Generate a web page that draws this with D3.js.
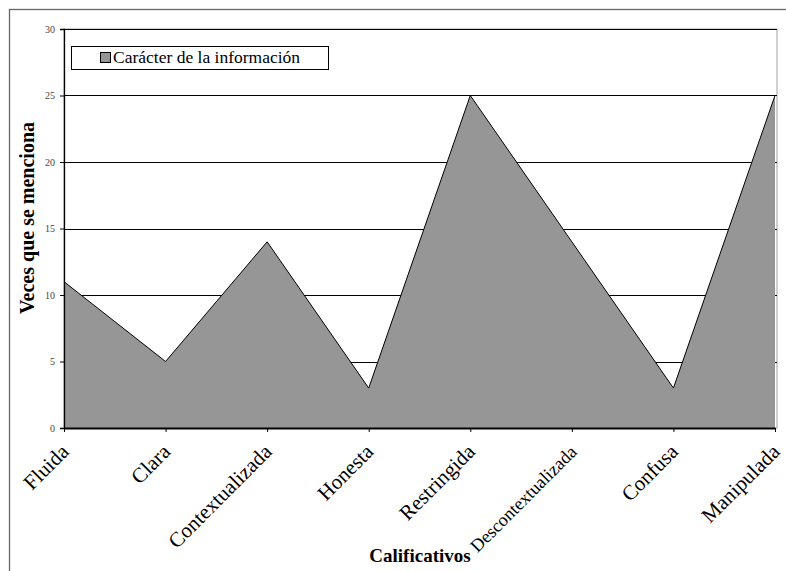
<!DOCTYPE html>
<html>
<head>
<meta charset="utf-8">
<script src="https://cdn.jsdelivr.net/npm/d3@7"></script>
<style>
  html, body { margin: 0; padding: 0; background: #fff; }
  svg { display: block; }
  text { font-family: "Liberation Serif", "DejaVu Serif", serif; }
</style>
</head>
<body>
<svg id="chart" width="786" height="571"></svg>
<script>
// Calificativos y número de menciones
const categories = ["Fluida", "Clara", "Contextualizada", "Honesta", "Restringida", "Descontextualizada", "Confusa", "Manipulada"];
const values = [11, 5, 14, 3, 25, 14, 3, 25];
const yTicks = [0, 5, 10, 15, 20, 25, 30];
const seriesName = "Carácter de la información";
const xTitle = "Calificativos";
const yTitle = "Veces que se menciona";

const svg = d3.select("#chart");
const W = 786, H = 571;
const plot = { left: 64, right: 777, top: 29, bottom: 428 };

// marco exterior del gráfico
svg.append("rect")
  .attr("x", 9.5).attr("y", 9.5)
  .attr("width", W).attr("height", H)
  .attr("fill", "#fff").attr("stroke", "#666").attr("stroke-width", 1.3);

const x = d3.scalePoint().domain(categories).range([plot.left, 775]);
const y = d3.scaleLinear().domain([0, 30]).range([plot.bottom, plot.top]);

// borde del área de trazado
svg.append("rect")
  .attr("x", plot.left).attr("y", plot.top)
  .attr("width", plot.right - plot.left).attr("height", plot.bottom - plot.top)
  .attr("fill", "none").attr("stroke", "#a0a0a0").attr("stroke-width", 1);

// líneas de división
svg.append("g").selectAll("line")
  .data(yTicks.filter(d => d > 0))
  .join("line")
  .attr("x1", plot.left).attr("x2", plot.right)
  .attr("y1", d => Math.round(y(d)) + 0.5).attr("y2", d => Math.round(y(d)) + 0.5)
  .attr("stroke", "#000").attr("stroke-width", 1);

// área
const area = d3.area()
  .x((d, i) => x(categories[i]))
  .y0(y(0))
  .y1(d => y(d));
const line = d3.line()
  .x((d, i) => x(categories[i]))
  .y(d => y(d));

svg.append("path").datum(values)
  .attr("d", area)
  .attr("fill", "#969696");
svg.append("path").datum(values)
  .attr("d", line)
  .attr("fill", "none").attr("stroke", "#000").attr("stroke-width", 1);

// eje Y
const yAxis = d3.axisLeft(y).tickValues(yTicks).tickSize(4).tickPadding(5);
const gy = svg.append("g").attr("transform", `translate(${plot.left},0)`).call(yAxis);
gy.select(".domain").attr("stroke", "#000").attr("stroke-width", 1.3);
gy.selectAll(".tick line").attr("stroke", "#000");
gy.selectAll(".tick text")
  .attr("font-family", "Liberation Serif, serif")
  .attr("font-size", 10).attr("fill", "#444");

// eje X
const xAxis = d3.axisBottom(x).tickSize(4).tickSizeOuter(0).tickFormat("");
const gx = svg.append("g").attr("transform", `translate(0,${plot.bottom})`).call(xAxis);
gx.select(".domain").attr("stroke", "#000").attr("stroke-width", 2);
gx.selectAll(".tick line").attr("stroke", "#000");

// etiquetas de categoría inclinadas; las más largas se reducen para caber
const maxLabelLen = 142;
svg.append("g").selectAll("text")
  .data(categories)
  .join("text")
  .attr("transform", d => `translate(${x(d) + 6},${plot.bottom + 25}) rotate(-45)`)
  .attr("text-anchor", "end")
  .attr("font-size", 21)
  .attr("fill", "#000")
  .text(d => d)
  .each(function () {
    const len = this.getComputedTextLength();
    if (len > maxLabelLen) d3.select(this).attr("font-size", 21 * maxLabelLen / len);
  });

// títulos de ejes
svg.append("text")
  .attr("transform", `translate(34,218) rotate(-90)`)
  .attr("text-anchor", "middle")
  .attr("font-size", 20).attr("font-weight", "bold")
  .text(yTitle);

svg.append("text")
  .attr("x", 420).attr("y", 562)
  .attr("text-anchor", "middle")
  .attr("font-size", 19).attr("font-weight", "bold")
  .text(xTitle);

// leyenda
const lg = svg.append("g");
lg.append("rect")
  .attr("x", 71.5).attr("y", 46.5).attr("width", 257).attr("height", 23)
  .attr("fill", "#fff").attr("stroke", "#000").attr("stroke-width", 1);
lg.append("rect")
  .attr("x", 100.5).attr("y", 52.5).attr("width", 10).attr("height", 10)
  .attr("fill", "#969696").attr("stroke", "#000").attr("stroke-width", 1);
lg.append("text")
  .attr("x", 113).attr("y", 63)
  .attr("font-size", 17.5)
  .text(seriesName);
</script>
</body>
</html>
